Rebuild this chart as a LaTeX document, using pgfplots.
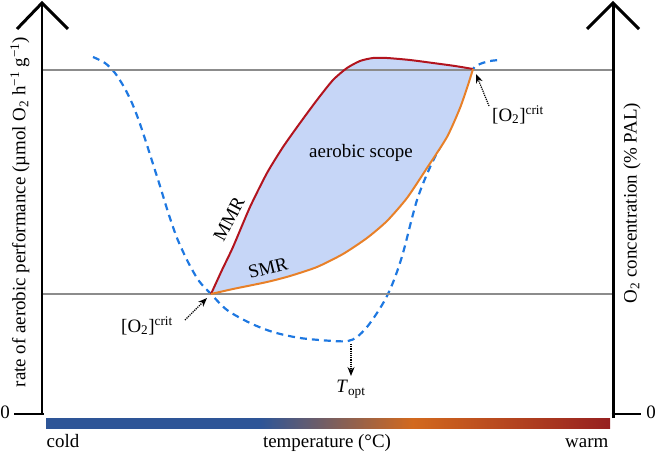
\documentclass[border=0pt]{standalone}
\usepackage{pgfplots}
\pgfplotsset{compat=1.18}
\usepackage{fontspec}
\setmainfont{Liberation Serif}
\usetikzlibrary{arrows.meta}
\definecolor{dashblue}{RGB}{30,120,225}
\definecolor{mmrred}{RGB}{178,20,30}
\definecolor{smrorange}{RGB}{232,128,40}
\definecolor{scopefill}{RGB}{198,214,247}
\definecolor{refgray}{RGB}{140,140,140}
\definecolor{cbblue}{RGB}{46,85,151}
\definecolor{cborange}{RGB}{210,105,30}
\definecolor{cbred}{RGB}{150,32,32}
\pgfdeclarehorizontalshading{tempbar}{100bp}{color(0bp)=(cbblue); color(25bp)=(cbblue); color(44bp)=(cbblue); color(57.5bp)=(cborange); color(75bp)=(cbred); color(100bp)=(cbred)}
\tikzset{lbl/.style={font=\fontsize{19}{22}\selectfont, inner sep=0.5pt}}
\begin{document}
\begin{tikzpicture}
\begin{axis}[
  scale only axis, width=658bp, height=452bp,
  xmin=0, xmax=658, ymin=0, ymax=452, y dir=reverse,
  hide axis, clip=false,
]
% O2 threshold (dashed)
\addplot[dashblue, line width=2.2pt, dash pattern=on 7bp off 5bp, smooth, tension=0.5] coordinates {
(93,57) (105,63) (115,73) (124,87) (132,103) (139,121) (146,142) (153,164) (160,186) (168,212) (177,238) (188,262) (199,281) (211,294) (227,310) (250,323) (273,332) (300,338) (333,341) (348,341) (357,337) (367,327) (377,313) (386,298) (394,280) (403,253) (417,200) (431,165) (444,140) (452,122) (458,105) (465,88) (473,69) (480,64) (490,61) (500,60)};
% aerobic scope fill
\addplot[fill=scopefill, draw=none] coordinates {
(211,294) (222,270) (233,247) (250,207) (267,173) (283,147) (300,123) (317,100) (333,80) (347,68) (360,61) (373,58) (387,58) (410,60) (433,63) (455,66) (473,69)
(468,85) (460,108) (447,137) (427,168) (407,198) (387,221) (367,238) (343,254) (317,267) (290,276) (267,282) (233,289) (211,294)};
% reference levels
\addplot[refgray, line width=1.4pt] coordinates {(42,70) (613,70)};
\addplot[refgray, line width=1.4pt] coordinates {(42,294) (613,294)};
% MMR
\addplot[mmrred, line width=2pt, smooth, tension=0.4] coordinates {
(211,294) (222,270) (233,247) (250,207) (267,173) (283,147) (300,123) (317,100) (333,80) (347,68) (360,61) (373,58) (387,58) (410,60) (433,63) (455,66) (473,69)};
% SMR
\addplot[smrorange, line width=2pt, smooth, tension=0.4] coordinates {
(211,294) (233,289) (267,282) (290,276) (317,267) (343,254) (367,238) (387,221) (407,198) (427,168) (447,137) (460,108) (468,85) (473,69)};
% axes
\draw[black, line width=3pt, line cap=butt] (42,414) -- (42,3);
\draw[black, line width=3pt] (17,29) -- (42,3) -- (68,29);
\draw[black, line width=3pt] (14,414) -- (43.5,414);
\draw[black, line width=3pt, line cap=butt] (613,418) -- (613,3);
\draw[black, line width=3pt] (587,29) -- (613,3) -- (639,29);
\draw[black, line width=3pt] (611.5,414) -- (641,414);
\node[lbl] at (5,412) {0};
\node[lbl] at (651,412) {0};
% colour bar
\shade[shading=tempbar] (46,418) rectangle (610,428);
\node[lbl, anchor=base west] at (46,447) {cold};
\node[lbl, anchor=base] at (327,447) {temperature (°C)};
\node[lbl, anchor=base east] at (609,447) {warm};
% axis titles
\node[lbl, rotate=90] at (20,212) {rate of aerobic performance (µmol O\textsubscript{2} h\textsuperscript{−1} g\textsuperscript{−1})};
\node[lbl, rotate=90] at (632,203) {O\textsubscript{2} concentration (\% PAL)};
% annotations
\node[lbl] at (361,153) {aerobic scope};
\node[lbl, rotate=62] at (229,219) {MMR};
\node[lbl, rotate=14] at (268,268) {SMR};
\draw[densely dotted, line width=1.2pt, -{Stealth[length=9bp,width=7bp]}] (185,320) -- (207,298);
\node[lbl] at (147,326) {[O\textsubscript{2}]\textsuperscript{crit}};
\draw[densely dotted, line width=1.2pt, -{Stealth[length=9bp,width=7bp]}] (489,106) -- (476,74);
\node[lbl] at (518,115) {[O\textsubscript{2}]\textsuperscript{crit}};
\draw[densely dotted, line width=1.2pt, -{Stealth[length=9bp,width=7bp]}] (351,344) -- (351,376);
\node[lbl] at (351,389) {\textit{T}\textsubscript{opt}};
\end{axis}
\pgfresetboundingbox
\path[use as bounding box] (0,0) rectangle (658bp,452bp);
\end{tikzpicture}
\end{document}
